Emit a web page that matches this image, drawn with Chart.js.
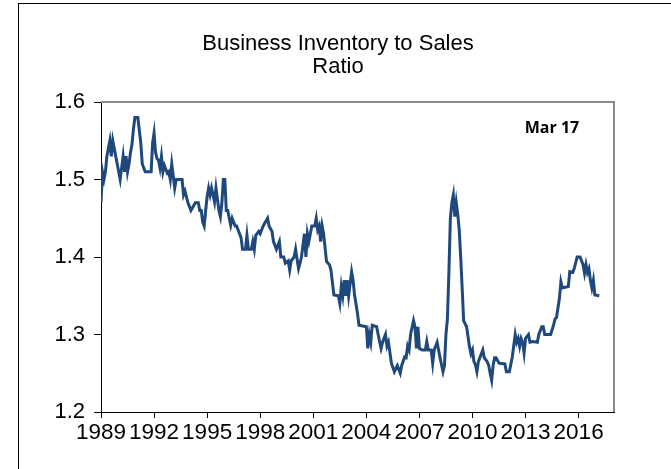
<!DOCTYPE html>
<html>
<head>
<meta charset="utf-8">
<script src="https://cdn.jsdelivr.net/npm/chart.js@4.4.1/dist/chart.umd.min.js"></script>
<style>
html,body{margin:0;padding:0;background:#fff;}
#wrap{position:relative;width:671px;height:469px;overflow:hidden;}
#frame{position:absolute;left:18px;top:3px;width:700px;height:500px;border-left:1px solid #000;border-top:1px solid #000;}
canvas{position:absolute;left:0;top:0;}
</style>
</head>
<body>
<div id="wrap">
<div id="frame"></div>
<canvas id="ratioChart" width="671" height="469"></canvas>
</div>
<script>
// months counted from Jan 1989 (0 = Jan 1989, 338 = Mar 2017)
const monthNo = [0,1,2,3,4,6,7,8,9,10,11,13,15,16,17,18,19,20,21,22,23,25,27,28,30,34,35,36,37,38,39,40,41,42,43,45,46,47,48,50,51,55,56,57,59,61,64,66,67,68,69,70,71,72,73,74,75,77,78,80,81,82,83,84,85,86,87,88,89,91,92,94,95,96,98,99,100,102,103,104,105,107,108,110,113,114,116,117,119,121,122,124,125,127,128,129,131,132,134,135,136,138,139,140,141,143,145,146,147,148,149,150,151,153,155,156,158,161,162,163,164,165,166,167,168,170,171,172,174,175,180,181,182,183,184,187,188,190,191,193,194,195,197,199,201,203,204,206,207,208,209,210,212,213,214,215,216,218,220,221,222,224,225,226,228,229,230,232,233,234,235,236,237,238,239,240,241,242,243,244,245,246,248,250,251,252,253,254,255,256,257,259,260,262,263,264,265,266,267,268,270,274,275,277,279,281,282,283,284,285,286,287,288,290,291,293,296,297,299,300,301,305,307,308,309,311,312,313,317,318,320,321,323,325,327,328,329,330,331,332,333,334,335,338];
const ratio = [1.47,1.51,1.50,1.51,1.53,1.55,1.53,1.55,1.54,1.53,1.52,1.50,1.53,1.51,1.53,1.51,1.52,1.535,1.545,1.565,1.58,1.58,1.547,1.52,1.51,1.51,1.547,1.56,1.535,1.527,1.525,1.515,1.53,1.51,1.518,1.508,1.51,1.50,1.52,1.489,1.50,1.50,1.48,1.485,1.47,1.46,1.47,1.47,1.46,1.46,1.445,1.44,1.46,1.478,1.489,1.48,1.489,1.471,1.489,1.46,1.452,1.47,1.50,1.50,1.46,1.46,1.45,1.441,1.45,1.44,1.44,1.43,1.425,1.41,1.41,1.428,1.41,1.41,1.42,1.41,1.428,1.433,1.43,1.44,1.45,1.44,1.433,1.42,1.41,1.42,1.40,1.40,1.392,1.395,1.383,1.395,1.40,1.41,1.385,1.392,1.40,1.43,1.40,1.43,1.42,1.44,1.44,1.45,1.435,1.44,1.42,1.44,1.43,1.394,1.39,1.383,1.351,1.35,1.34,1.362,1.35,1.37,1.35,1.37,1.35,1.381,1.37,1.351,1.327,1.312,1.31,1.282,1.30,1.29,1.312,1.31,1.30,1.282,1.29,1.30,1.285,1.29,1.263,1.252,1.26,1.25,1.26,1.271,1.27,1.285,1.28,1.30,1.318,1.31,1.282,1.31,1.282,1.28,1.28,1.291,1.28,1.28,1.263,1.28,1.29,1.28,1.27,1.252,1.26,1.30,1.32,1.38,1.45,1.47,1.48,1.452,1.47,1.455,1.435,1.40,1.36,1.318,1.31,1.284,1.275,1.28,1.265,1.261,1.252,1.265,1.27,1.28,1.27,1.265,1.26,1.25,1.241,1.26,1.27,1.27,1.263,1.262,1.252,1.252,1.271,1.30,1.29,1.295,1.285,1.295,1.29,1.276,1.295,1.30,1.29,1.291,1.29,1.30,1.31,1.31,1.30,1.30,1.312,1.32,1.322,1.347,1.368,1.36,1.362,1.381,1.38,1.385,1.40,1.40,1.39,1.379,1.39,1.38,1.385,1.37,1.36,1.37,1.351,1.35];
const yearTicks = [1989,1992,1995,1998,2001,2004,2007,2010,2013,2016];
const yTicks = [1.2,1.3,1.4,1.5,1.6];
const titleLines = ["Business Inventory to Sales","Ratio"];
const stampText = "Mar 17";

const points = monthNo.map((m,i)=>({x:m,y:ratio[i]}));

const boxPlugin = {
  id:"box",
  beforeDatasetsDraw(chart){
    const a = chart.chartArea, c = chart.ctx;
    c.save();
    c.strokeStyle = "#8c8c8c";
    c.lineWidth = 2;
    c.beginPath();
    c.moveTo(a.left, a.top);
    c.lineTo(a.right, a.top);
    c.lineTo(a.right, a.bottom);
    c.stroke();
    c.restore();
  },
  afterDraw(chart){
    const c = chart.ctx;
    c.save();
    c.fillStyle = "#000";
    c.textAlign = "center";
    c.textBaseline = "middle";
    c.font = "22px 'Liberation Sans', Arial";
    titleLines.forEach((t,i)=>c.fillText(t, 338, 44 + i*23));
    c.textBaseline = "alphabetic";
    c.font = "bold 16px 'Open Sans'";
    c.fillText(stampText, 552, 133);
    c.restore();
  }
};

new Chart(document.getElementById("ratioChart"),{
  type:"line",
  data:{
    datasets:[{
      data:points,
      borderColor:"#1f497d",
      borderWidth:3,
      pointRadius:0,
      tension:0,
      fill:false
    }]
  },
  options:{
    responsive:false,
    animation:false,
    layout:{padding:{left:0,right:57,top:102,bottom:0}},
    plugins:{
      legend:{display:false},
      tooltip:{enabled:false},
      title:{display:false}
    },
    scales:{
      x:{
        type:"linear",
        min:0,
        max:348,
        afterBuildTicks(s){
          s.ticks = yearTicks.map(y=>({value:(y-1989)*12}));
        },
        afterFit(s){ s.height = 57; },
        grid:{display:true,drawOnChartArea:false,drawTicks:true,tickLength:6,color:"#000"},
        border:{display:true,color:"#000",width:1},
        ticks:{
          color:"#000",
          font:{family:"'Liberation Sans', Arial",size:22.5},
          padding:1,
          maxRotation:0,
          autoSkip:false,
          callback:v=>String(1989+v/12)
        }
      },
      y:{
        min:1.2,
        max:1.6,
        afterBuildTicks(s){
          s.ticks = yTicks.map(v=>({value:v}));
        },
        afterFit(s){ s.width = 101; },
        grid:{display:true,drawOnChartArea:false,drawTicks:true,tickLength:7,color:"#000"},
        border:{display:true,color:"#000",width:1},
        ticks:{
          color:"#000",
          font:{family:"'Liberation Sans', Arial",size:22},
          padding:9,
          callback:v=>v.toFixed(1)
        }
      }
    }
  },
  plugins:[boxPlugin]
});
</script>
</body>
</html>
